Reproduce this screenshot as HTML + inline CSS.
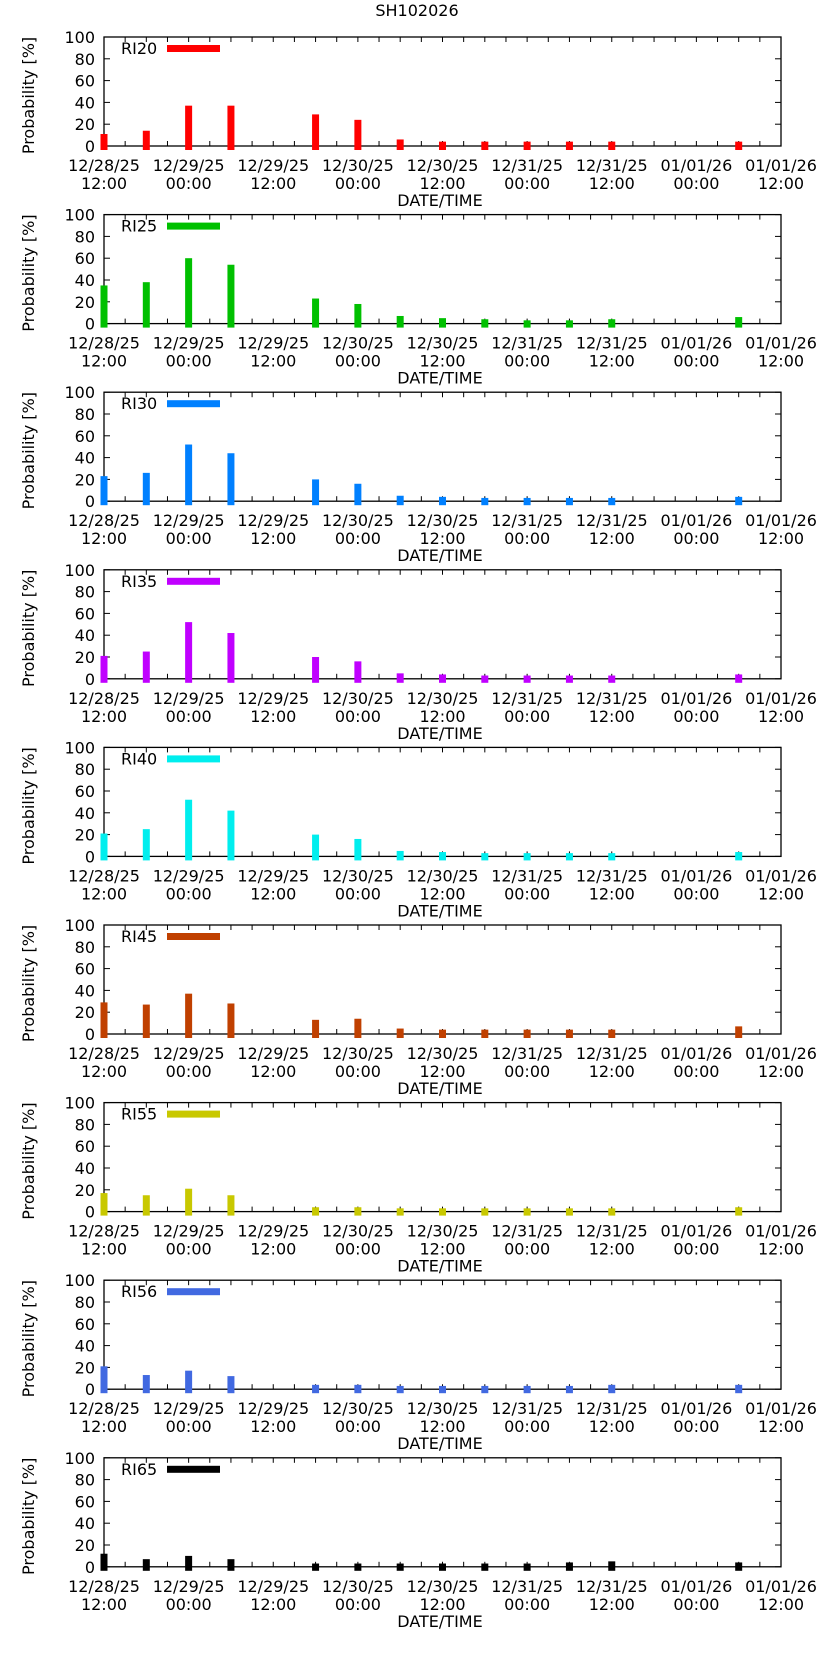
<!DOCTYPE html>
<html><head><meta charset="utf-8"><style>
body{margin:0;background:#fff}
svg text{font-family:"DejaVu Sans","Liberation Sans",sans-serif;font-size:16px;fill:#000}
</style></head><body>
<svg id="c" width="834" height="1653" xmlns="http://www.w3.org/2000/svg">
<text x="417" y="16" text-anchor="middle">SH102026</text>
</svg>
<script>
const hours=[0,6,12,18,30,36,42,48,54,60,66,72,90];
const names=["RI20","RI25","RI30","RI35","RI40","RI45","RI55","RI56","RI65"];
const colors=["#ff0000","#00c000","#0080ff","#c000ff","#00eeee","#c04000","#c8c800","#4169e1","#000000"];
const ri20=[11,14,37,37,29,24,6,4,4,4,4,4,4];
const ri25=[35,38,60,54,23,18,7,5,4,3,3,4,6];
const ri30=[23,26,52,44,20,16,5,4,3,3,3,3,4];
const ri35=[21,25,52,42,20,16,5,4,3,3,3,3,4];
const ri40=[21,25,52,42,20,16,5,4,3,3,3,3,4];
const ri45=[29,27,37,28,13,14,5,4,4,4,4,4,7];
const ri55=[17,15,21,15,4,4,3,3,3,3,3,3,4];
const ri56=[21,13,17,12,4,4,3,3,3,3,3,4,4];
const ri65=[12,7,10,7,3,3,3,3,3,3,4,5,4];
const series=[ri20,ri25,ri30,ri35,ri40,ri45,ri55,ri56,ri65];
const yTicks=[0,20,40,60,80,100];
const xLab1=["12/28/25","12/29/25","12/29/25","12/30/25","12/30/25","12/31/25","12/31/25","01/01/26","01/01/26"];
const xLab2=["12:00","00:00","12:00","00:00","12:00","00:00","12:00","00:00","12:00"];
const svg=document.getElementById('c');const NS="http://www.w3.org/2000/svg";
function mk(t,a,p){const e=document.createElementNS(NS,t);for(const k in a)e.setAttribute(k,a[k]);(p||svg).appendChild(e);return e;}
const L=104,R=781,H=96;
const xs=h=>L+(R-L)*h/H;
for(let p=0;p<9;p++){
  const top=37+177.6*p,zero=146+177.6*p;
  const ys=v=>zero-(zero-top)*v/100;
  const g=mk('g',{});
  
  
  const fr=mk('rect',{x:L,y:top,width:R-L,height:zero-top,fill:'none',stroke:'#000','stroke-width':1.3},g);
  
  
  yTicks.forEach(v=>{const y=ys(v);
    mk('line',{x1:L,x2:L+6,y1:y,y2:y,stroke:'#000'},g);
    mk('line',{x1:R,x2:R-6,y1:y,y2:y,stroke:'#000'},g);
    const t=mk('text',{x:L-9,y:y+6,'text-anchor':'end'},g);t.textContent=v;
    
    });
  for(let h=0;h<=H;h+=3){const x=xs(h);
    mk('line',{x1:x,x2:x,y1:zero,y2:zero-5,stroke:'#000'},g);
    mk('line',{x1:x,x2:x,y1:top,y2:top+5,stroke:'#000'},g);}
  xLab1.forEach((s,i)=>{const x=xs(i*12);
    const a=mk('text',{x:x,y:zero+25,'text-anchor':'middle'},g);a.textContent=s;
    
    
    const b=mk('text',{x:x,y:zero+43,'text-anchor':'middle'},g);b.textContent=xLab2[i];
    
    });
  const xt=mk('text',{x:440,y:zero+60,'text-anchor':'middle'},g);xt.textContent='DATE/TIME';
  
  
  const yt=mk('text',{x:0,y:0,'text-anchor':'middle',transform:`translate(34,${(top+zero)/2+4}) rotate(-90)`},g);yt.textContent='Probability [%]';
  
  
  const lt=mk('text',{x:121,y:top+17},g);lt.textContent=names[p];
  
  
  const lr=mk('rect',{x:167,y:top+8,width:53,height:7,fill:colors[p]},g);
  
  
  series[p].forEach((v,i)=>{const x=xs(hours[i]);const y=ys(v);
    const r=mk('rect',{x:x-3.5,y:y,width:7,height:zero+4-y,fill:colors[p]},g);
    
    });
}
</script>
</body></html>
